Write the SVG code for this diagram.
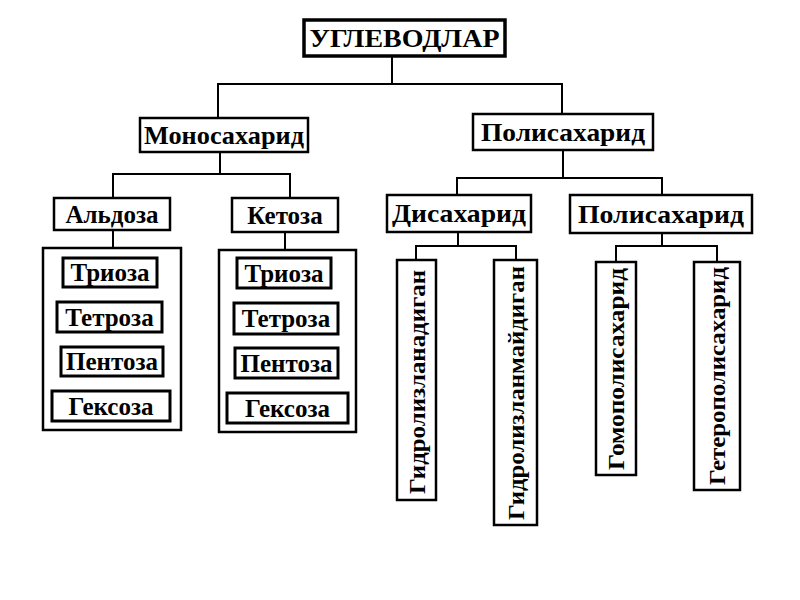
<svg xmlns="http://www.w3.org/2000/svg" width="800" height="600" viewBox="0 0 800 600">
<style>
rect{fill:#fff;stroke:#000;stroke-width:2.5}
.in{stroke-width:3}
text{font-family:"Liberation Serif",serif;font-weight:bold;font-size:25px;text-anchor:middle;dominant-baseline:central;fill:#000}
.v{font-size:24px}
#conn path{fill:none;stroke:#000;stroke-width:2}
</style>
<rect x="0" y="0" width="800" height="600" style="stroke:none"/>
<g id="conn">
<path d="M392 56V84M218 118V84H562V114"/>
<path d="M220 152V174M113 198V174H290V198"/>
<path d="M113 230V248M285 232V250"/>
<path d="M563 150V178M457 195V178H662V195"/>
<path d="M458 232V246M416 260V246H516V260"/>
<path d="M662 233V246M616 262V246H717V262"/>
</g>
<g id="root"><rect x="304" y="20" width="201" height="36" style="stroke-width:3.5"/><text x="404.5" y="38" textLength="190" lengthAdjust="spacingAndGlyphs">УГЛЕВОДЛАР</text></g>
<g id="mono"><rect x="140" y="118" width="168" height="34"/><text x="224" y="135" textLength="160" lengthAdjust="spacingAndGlyphs">Моносахарид</text></g>
<g id="poly"><rect x="473" y="114" width="180" height="36"/><text x="563" y="132" textLength="164" lengthAdjust="spacingAndGlyphs">Полисахарид</text></g>
<g id="aldoza"><rect x="54" y="198" width="116" height="32"/><text x="112" y="214">Альдоза</text></g>
<g id="ketoza"><rect x="232" y="198" width="106" height="34"/><text x="285" y="215">Кетоза</text></g>
<g id="aldoza-group"><rect x="43" y="248" width="138" height="182"/>
<rect class="in" x="63" y="258" width="94" height="29"/><text x="110" y="272.5">Триоза</text>
<rect class="in" x="57" y="302" width="105" height="30"/><text x="109.5" y="317">Тетроза</text>
<rect class="in" x="61" y="347" width="102" height="29"/><text x="112" y="361.5">Пентоза</text>
<rect class="in" x="52" y="391" width="118" height="30"/><text x="111" y="406">Гексоза</text></g>
<g id="ketoza-group"><rect x="219" y="250" width="137" height="182"/>
<rect class="in" x="237" y="258" width="94" height="30"/><text x="284" y="273">Триоза</text>
<rect class="in" x="234" y="303" width="104" height="31"/><text x="286" y="318.5">Тетроза</text>
<rect class="in" x="235" y="348" width="103" height="30"/><text x="286.5" y="363">Пентоза</text>
<rect class="in" x="227" y="393" width="121" height="30"/><text x="287.5" y="408">Гексоза</text></g>
<g id="disaharid"><rect x="387" y="195" width="144" height="37"/><text x="459" y="213.5" textLength="134" lengthAdjust="spacingAndGlyphs">Дисахарид</text></g>
<g id="polisaharid2"><rect x="570" y="195" width="182" height="38"/><text x="661" y="214" textLength="166" lengthAdjust="spacingAndGlyphs">Полисахарид</text></g>
<g id="gidrolizlanadigan"><rect x="397" y="260" width="39" height="240"/><text class="v" transform="translate(416.5 382) rotate(-90)" textLength="224" lengthAdjust="spacingAndGlyphs">Гидролизланадиган</text></g>
<g id="gidrolizlanmaydigan"><rect x="494" y="260" width="43" height="265"/><text class="v" transform="translate(515.5 393) rotate(-90)" textLength="254" lengthAdjust="spacingAndGlyphs">Гидролизланмайдиган</text></g>
<g id="gomopolisaharid"><rect x="596" y="262" width="40" height="213"/><text class="v" transform="translate(616 369) rotate(-90)" textLength="202" lengthAdjust="spacingAndGlyphs">Гомополисахарид</text></g>
<g id="geteropolisaharid"><rect x="694" y="262" width="46" height="228"/><text class="v" transform="translate(717 376) rotate(-90)" textLength="218" lengthAdjust="spacingAndGlyphs">Гетерополисахарид</text></g>
</svg>
